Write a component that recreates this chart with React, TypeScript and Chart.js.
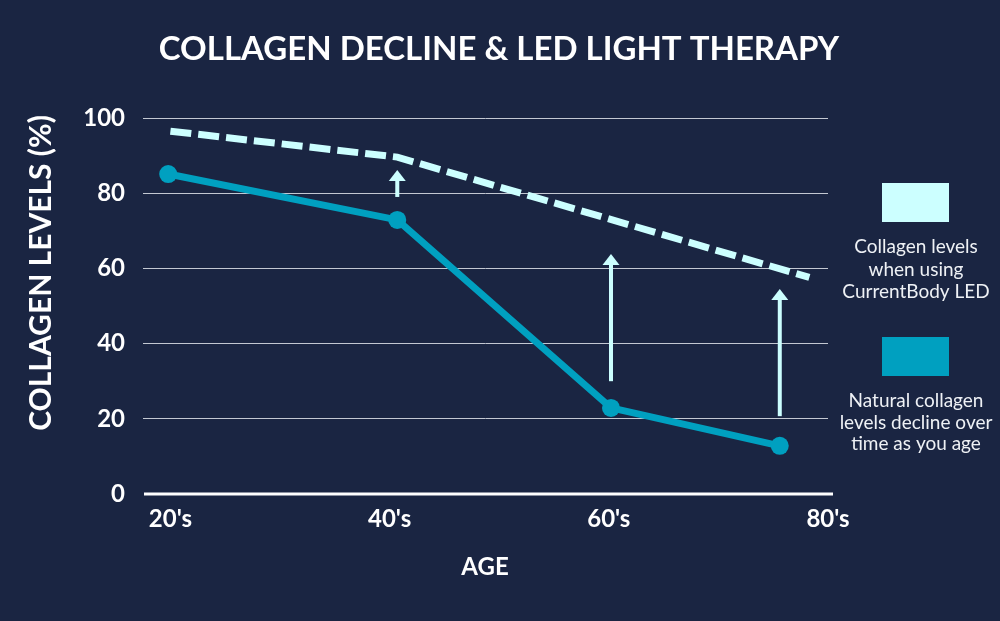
import React, { useEffect, useRef } from "react";
import { Chart, registerables } from "chart.js";

Chart.register(...registerables);

const BG = "#1a2542";
const TEAL = "#00a0c0";
const CYAN = "#ccffff";
const FONT = "Lato, 'Open Sans', sans-serif";

const chartTitle = "COLLAGEN DECLINE & LED LIGHT THERAPY";
const yTitle = "COLLAGEN LEVELS (%)";
const xTitle = "AGE";

const ageTicks = [20, 40, 60, 80];
const ageLabels = ["20's", "40's", "60's", "80's"];
const yTickValues = [0, 20, 40, 60, 80, 100];

const naturalAges = [19.8, 40.7, 60.2, 75.6];
const naturalLevels = [85.1, 72.9, 22.9, 12.8];

const ledAges = [20, 40.7, 78.3];
const ledLevels = [96.5, 89.6, 57.6];

const arrowAges = [40.7, 60.2, 75.6];
const arrowFrom = [79.0, 30.0, 20.7];
const arrowTo = [86.2, 63.8, 54.5];

const legendLed = ["Collagen levels", "when using", "CurrentBody LED"];
const legendNatural = ["Natural collagen", "levels decline over", "time as you age"];

const overlay = {
  id: "overlay",
  beforeDatasetsDraw(chart: any) {
    const ctx = chart.ctx;
    const y0 = chart.scales.y.getPixelForValue(0);
    ctx.save();
    ctx.strokeStyle = "#ffffff";
    ctx.lineWidth = 3;
    ctx.beginPath();
    ctx.moveTo(144, y0);
    ctx.lineTo(833, y0);
    ctx.stroke();
    ctx.restore();
  },
  afterDatasetsDraw(chart: any) {
    const ctx = chart.ctx;
    const xs = chart.scales.x;
    const ys = chart.scales.y;
    ctx.save();
    ctx.fillStyle = CYAN;
    ctx.strokeStyle = CYAN;
    for (let i = 0; i < arrowAges.length; i++) {
      const x = xs.getPixelForValue(arrowAges[i]);
      const yb = ys.getPixelForValue(arrowFrom[i]);
      const yt = ys.getPixelForValue(arrowTo[i]);
      const headH = 11;
      const headW = 17;
      ctx.lineWidth = 4;
      ctx.beginPath();
      ctx.moveTo(x, yb);
      ctx.lineTo(x, yt + headH - 1);
      ctx.stroke();
      ctx.beginPath();
      ctx.moveTo(x, yt);
      ctx.lineTo(x + headW / 2, yt + headH);
      ctx.lineTo(x - headW / 2, yt + headH);
      ctx.closePath();
      ctx.fill();
    }
    ctx.restore();
  },
  afterDraw(chart: any) {
    const ctx = chart.ctx;
    ctx.save();
    ctx.fillStyle = "#ffffff";
    ctx.textAlign = "center";
    ctx.textBaseline = "alphabetic";
    ctx.font = `bold 33px ${FONT}`;
    ctx.fillText(chartTitle, 499, 60);

    // y title
    ctx.save();
    ctx.translate(51, 273);
    ctx.rotate(-Math.PI / 2);
    ctx.font = `bold 30px ${FONT}`;
    ctx.textBaseline = "alphabetic";
    ctx.fillText(yTitle, 0, 0);
    ctx.restore();

    // x title
    ctx.font = `bold 24px ${FONT}`;
    ctx.textBaseline = "middle";
    ctx.fillText(xTitle, 485, 567);

    // legend
    ctx.fillStyle = CYAN;
    ctx.fillRect(882, 183, 67, 39);
    ctx.fillStyle = TEAL;
    ctx.fillRect(882, 337, 67, 39);
    ctx.fillStyle = "#eef1f5";
    ctx.font = `19px ${FONT}`;
    ctx.textBaseline = "alphabetic";
    legendLed.forEach((t, i) => ctx.fillText(t, 916, 253 + i * 22.5));
    legendNatural.forEach((t, i) => ctx.fillText(t, 916, 407 + i * 21.5));
    ctx.restore();
  },
};

export default function App() {
  const ref = useRef<HTMLCanvasElement>(null);
  useEffect(() => {
    const canvas = ref.current!;
    const chart = new Chart(canvas, {
      type: "line",
      data: {
        datasets: [
          {
            label: "LED",
            data: ledAges.map((a, i) => ({ x: a, y: ledLevels[i] })),
            borderColor: CYAN,
            borderWidth: 7,
            borderDash: [21, 7],
            pointRadius: 0,
            fill: false,
            tension: 0,
          },
          {
            label: "Natural",
            data: naturalAges.map((a, i) => ({ x: a, y: naturalLevels[i] })),
            borderColor: TEAL,
            backgroundColor: TEAL,
            borderWidth: 7,
            pointRadius: 9,
            pointBorderWidth: 0,
            pointBackgroundColor: TEAL,
            fill: false,
            tension: 0,
          },
        ],
      },
      options: {
        responsive: false,
        animation: false,
        layout: { padding: { left: 0, right: 172, top: 118, bottom: 0 } },
        plugins: {
          legend: { display: false },
          tooltip: { enabled: false },
          title: { display: false },
        },
        scales: {
          x: {
            type: "linear",
            min: 17.5,
            max: 80,
            afterBuildTicks: (s: any) => {
              s.ticks = ageTicks.map((v) => ({ value: v }));
            },
            afterFit: (s: any) => {
              s.height = 127;
            },
            grid: { display: false, drawTicks: false },
            border: { display: false },
            ticks: {
              color: "#ffffff",
              font: { family: FONT, size: 24, weight: "bold" },
              padding: 11,
              maxRotation: 0,
              autoSkip: false,
              callback: (v: any) => ageLabels[ageTicks.indexOf(v)] ?? "",
            },
          },
          y: {
            min: 0,
            max: 100,
            afterBuildTicks: (s: any) => {
              s.ticks = yTickValues.map((v) => ({ value: v }));
            },
            afterFit: (s: any) => {
              s.width = 143;
            },
            grid: {
              drawTicks: false,
              color: (c: any) => (c.tick && c.tick.value === 0 ? "rgba(0,0,0,0)" : "#c3c8d2"),
              lineWidth: 1,
            },
            border: { display: false },
            ticks: {
              color: "#ffffff",
              font: { family: FONT, size: 24, weight: "bold" },
              padding: 18,
            },
          },
        },
      },
      plugins: [overlay],
    } as any);
    return () => chart.destroy();
  }, []);
  return (
    <div style={{ position: "fixed", left: 0, top: 0, width: 1000, height: 621, background: BG }}>
      <canvas ref={ref} width={1000} height={621} style={{ display: "block" }} />
    </div>
  );
}
